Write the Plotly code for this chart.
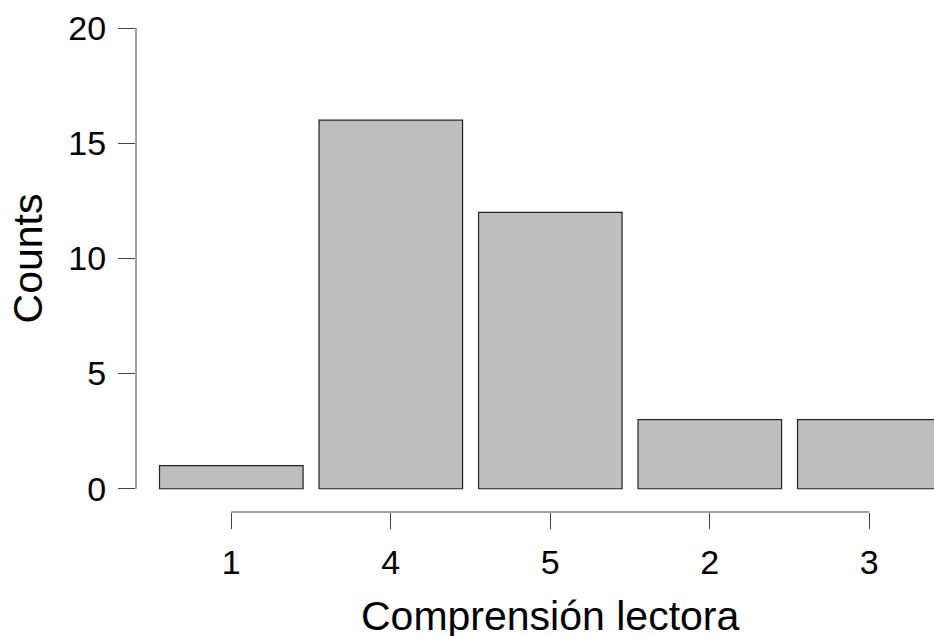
import plotly.graph_objects as go

categories = ["1", "4", "5", "2", "3"]
counts = [1, 16, 12, 3, 3]
y_ticks = [0, 5, 10, 15, 20]

x_pos = list(range(len(categories)))
FONT = "Liberation Sans, Arial, sans-serif"

fig = go.Figure()
fig.add_trace(go.Bar(
    x=x_pos, y=counts, width=0.9,
    marker=dict(color="#bebebe", line=dict(color="#222222", width=1.2)),
    showlegend=False, hoverinfo="skip",
))

fig.update_layout(
    width=934, height=636,
    margin=dict(l=136, r=0, t=28, b=124, pad=0),
    paper_bgcolor="white", plot_bgcolor="white",
    font=dict(family=FONT, color="black"),
    xaxis=dict(
        range=[-0.5975, 4.4056], tickmode="array", tickvals=x_pos, ticktext=categories,
        ticks="outside", ticklen=16, tickwidth=1, tickcolor="#444444",
        tickfont=dict(size=34), showgrid=False, zeroline=False, showline=False,
        ticklabelstandoff=4,
    ),
    yaxis=dict(
        range=[-1.01, 20], tickmode="array", tickvals=y_ticks,
        ticks="outside", ticklen=17, tickwidth=1, tickcolor="#444444",
        tickfont=dict(size=34), showgrid=False, zeroline=False, showline=False,
        ticklabelstandoff=5,
    ),
    shapes=[
        dict(type="line", xref="paper", yref="y", x0=0, x1=0, y0=y_ticks[0], y1=y_ticks[-1],
             line=dict(color="#444444", width=1)),
        dict(type="line", xref="x", yref="paper", x0=x_pos[0], x1=x_pos[-1], y0=0, y1=0,
             line=dict(color="#444444", width=1)),
    ],
    annotations=[
        dict(text="Counts", textangle=-90, xref="paper", yref="y",
             x=-0.1353, y=10, xanchor="center", yanchor="middle", showarrow=False,
             font=dict(size=41, family=FONT)),
        dict(text="Comprensión lectora", xref="x", yref="paper",
             x=2, y=-0.215, xanchor="center", yanchor="middle", showarrow=False,
             font=dict(size=41, family=FONT)),
    ],
)

fig.write_html(
    "out.html",
    config={"displayModeBar": False},
    post_script="document.body.style.margin='0';document.body.style.overflow='hidden';",
)
